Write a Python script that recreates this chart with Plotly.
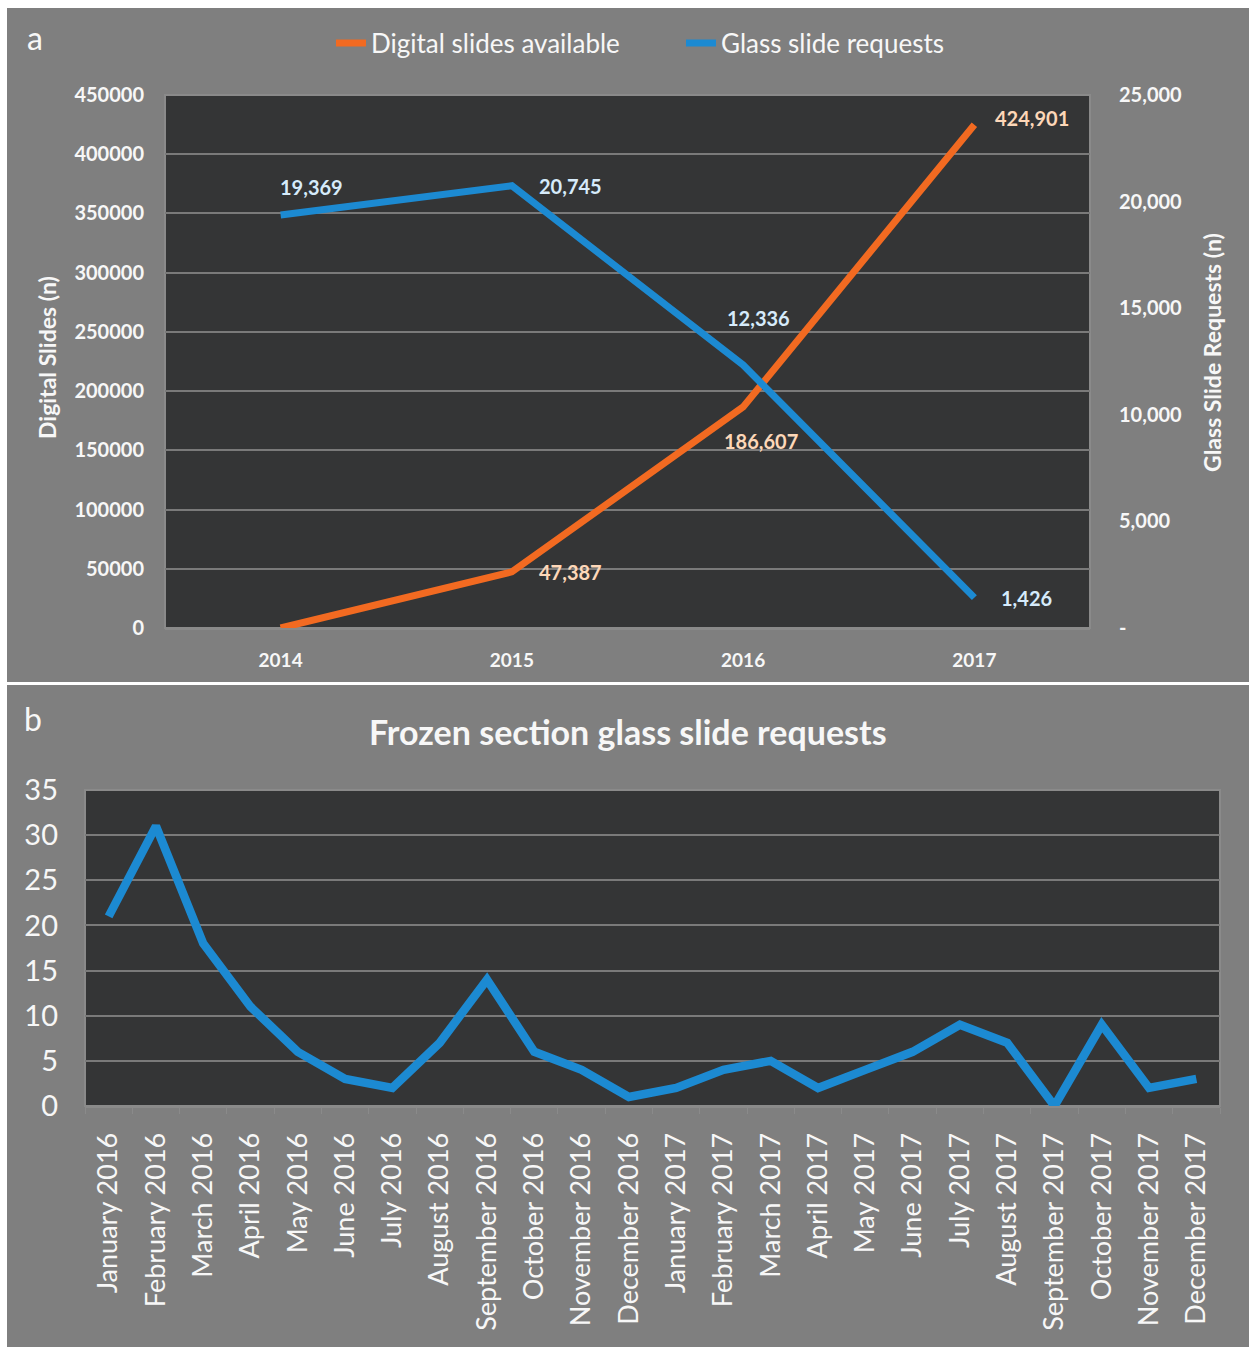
import plotly.graph_objects as go

# ---------------- data ----------------
years = ["2014", "2015", "2016", "2017"]
digital_slides = [0, 47387, 186607, 424901]
glass_requests = [19369, 20745, 12336, 1426]

left_tickvals = [0, 50000, 100000, 150000, 200000, 250000, 300000, 350000, 400000, 450000]
right_tickvals = [0, 5000, 10000, 15000, 20000, 25000]
right_ticktext = ["-", "5,000", "10,000", "15,000", "20,000", "25,000"]

months = ["January 2016", "February 2016", "March 2016", "April 2016", "May 2016",
          "June 2016", "July 2016", "August 2016", "September 2016", "October 2016",
          "November 2016", "December 2016", "January 2017", "February 2017",
          "March 2017", "April 2017", "May 2017", "June 2017", "July 2017",
          "August 2017", "September 2017", "October 2017", "November 2017",
          "December 2017"]
frozen_requests = [21, 31, 18, 11, 6, 3, 2, 7, 14, 6, 4, 1,
                   2, 4, 5, 2, 4, 6, 9, 7, 0, 9, 2, 3]
frozen_tickvals = [0, 5, 10, 15, 20, 25, 30, 35]

# ---------------- style ----------------
W, H = 1255, 1349
ORANGE = "#f26a21"
BLUE = "#1c8ad2"
GRAY = "#7f7f7f"
DARK = "#343536"
GRID = "#7a7a7a"
FONT = "Lato"
WHITE = "#f7f7f7"


def px(x):
    return x / W


def py(y):
    return 1 - y / H


fig = go.Figure()

fig.add_trace(go.Scatter(
    x=years, y=digital_slides, name="Digital slides available",
    mode="lines", line=dict(color=ORANGE, width=7),
    xaxis="x", yaxis="y"))
fig.add_trace(go.Scatter(
    x=years, y=glass_requests, name="Glass slide requests",
    mode="lines", line=dict(color=BLUE, width=7),
    xaxis="x", yaxis="y2"))
fig.add_trace(go.Scatter(
    x=months, y=frozen_requests, name="Frozen section glass slide requests",
    mode="lines", line=dict(color=BLUE, width=8.5), showlegend=False,
    xaxis="x2", yaxis="y3"))

# data labels (offsets in pixels are styling only)
dig_off = [(0, 0), (59, 0), (18, -34), (58, 7)]
gl_off = [(31, 28), (59, 0), (15, 47), (52, 0)]
annotations = []
for i, (v, (dx, dy)) in enumerate(zip(digital_slides, dig_off)):
    if v:
        annotations.append(dict(x=i, y=v, xref="x", yref="y", text=f"{v:,}",
                                showarrow=False, xshift=dx, yshift=dy,
                                xanchor="center", yanchor="middle",
                                font=dict(family=FONT, size=20, color="#fdd7b8", weight="bold")))
for i, (v, (dx, dy)) in enumerate(zip(glass_requests, gl_off)):
    annotations.append(dict(x=i, y=v, xref="x", yref="y2", text=f"{v:,}",
                            showarrow=False, xshift=dx, yshift=dy,
                            xanchor="center", yanchor="middle",
                            font=dict(family=FONT, size=20, color="#d6ebfb", weight="bold")))

annotations += [
    dict(x=px(35), y=py(38), text="a",
         font=dict(family=FONT, size=32, color=WHITE)),
    dict(x=px(33), y=py(718), text="b",
         font=dict(family=FONT, size=32, color=WHITE)),
    dict(x=px(628), y=py(731), text="Frozen section glass slide requests",
         font=dict(family=FONT, size=34, color=WHITE, weight="bold")),
    dict(x=px(47), y=py(358), text="Digital Slides (n)", textangle=-90,
         font=dict(family=FONT, size=23, color=WHITE, weight="bold")),
    dict(x=px(1212), y=py(353), text="Glass Slide Requests (n)", textangle=-90,
         font=dict(family=FONT, size=23, color=WHITE, weight="bold")),
]
for a in annotations[-5:]:
    a.update(xref="paper", yref="paper", showarrow=False, xanchor="center", yanchor="middle")

shapes = [
    dict(type="rect", xref="paper", yref="paper", x0=px(7), x1=px(1249), y0=py(1347), y1=py(8),
         fillcolor=GRAY, line=dict(width=0), layer="below"),
    dict(type="line", xref="paper", yref="paper", x0=px(7), x1=px(1249), y0=py(683.5), y1=py(683.5),
         line=dict(color="#ffffff", width=3), layer="below"),
    dict(type="rect", xref="paper", yref="paper", x0=px(165), x1=px(1090), y0=py(628), y1=py(95),
         fillcolor=DARK, line=dict(color="#8a8a8a", width=2), layer="below"),
    dict(type="rect", xref="paper", yref="paper", x0=px(85), x1=px(1220), y0=py(1106), y1=py(790),
         fillcolor=DARK, line=dict(color="#8a8a8a", width=2), layer="below"),
]

tick_bold = dict(family=FONT, size=20, color=WHITE, weight="bold")

fig.update_layout(
    width=W, height=H, autosize=False,
    margin=dict(l=0, r=0, t=0, b=0, autoexpand=False),
    paper_bgcolor="#ffffff",
    plot_bgcolor="rgba(0,0,0,0)",
    font=dict(family=FONT, color=WHITE),
    shapes=shapes,
    annotations=annotations,
    legend=dict(orientation="h", x=px(331), xanchor="left", y=py(43), yanchor="middle",
                bgcolor="rgba(0,0,0,0)", font=dict(family=FONT, size=26, color=WHITE),
                entrywidth=305, entrywidthmode="pixels", tracegroupgap=0),
    xaxis=dict(domain=[px(165), px(1090)], anchor="y", type="category",
               range=[-0.5, 3.5], showgrid=False, zeroline=False,
               showline=True, linecolor="#8a8a8a", linewidth=2,
               ticks="", tickfont=dict(family=FONT, size=19, color=WHITE, weight="bold"),
               ticklabelstandoff=14),
    yaxis=dict(domain=[py(628), py(95)], anchor="x", range=[0, 450000],
               tickvals=left_tickvals, tickformat="d", showgrid=True,
               gridcolor=GRID, gridwidth=2, zeroline=False, showline=False,
               ticks="", tickfont=tick_bold, ticklabelstandoff=20),
    yaxis2=dict(overlaying="y", side="right", anchor="x", range=[0, 25000],
                tickvals=right_tickvals, ticktext=right_ticktext, showgrid=False,
                zeroline=False, showline=False, ticks="", tickfont=tick_bold,
                ticklabelstandoff=28),
    xaxis2=dict(domain=[px(85), px(1220)], anchor="y3", type="category",
                range=[-0.5, 23.5], tickangle=-90, showgrid=False, zeroline=False,
                showline=True, linecolor="#8a8a8a", linewidth=2,
                ticks="outside", tickson="boundaries", ticklen=6, tickcolor="#8a8a8a",
                tickfont=dict(family=FONT, size=27, color=WHITE), ticklabelstandoff=14),
    yaxis3=dict(domain=[py(1106), py(790)], anchor="x2", range=[0, 35],
                tickvals=frozen_tickvals, showgrid=True, gridcolor=GRID, gridwidth=2,
                zeroline=False, showline=False, ticks="",
                tickfont=dict(family=FONT, size=29, color=WHITE), ticklabelstandoff=26),
)

fig.write_html("out.html")
